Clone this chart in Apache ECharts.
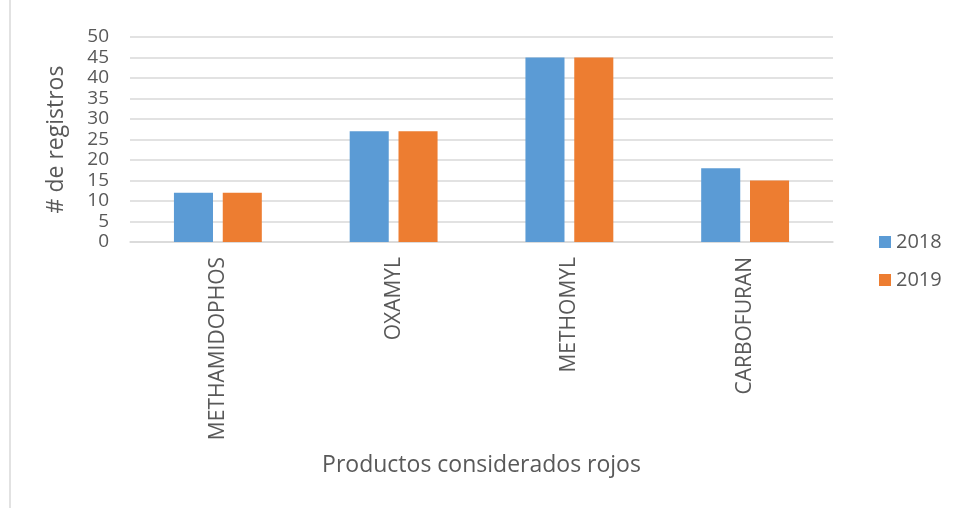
<!DOCTYPE html>
<html><head><meta charset="utf-8">
<script src="https://cdn.jsdelivr.net/npm/echarts@6/dist/echarts.min.js"></script>
<style>html,body{margin:0;padding:0;background:#fff}#c{width:956px;height:508px}</style>
</head><body><div id="c"></div>
<script>
const categories = ['METHAMIDOPHOS', 'OXAMYL', 'METHOMYL', 'CARBOFURAN'];
const values2018 = [12, 27, 45, 18];
const values2019 = [12, 27, 45, 15];
const seriesNames = ['2018', '2019'];
const chart = echarts.init(document.getElementById('c'));
const font = '"Open Sans", "Liberation Sans", sans-serif';
chart.setOption({
  animation: false,
  graphic: [{type: 'line', shape: {x1: 10, y1: 0, x2: 10, y2: 508}, style: {stroke: '#d9d9d9', lineWidth: 1.5}}],
  grid: {left: 130, right: 123, top: 37, bottom: 266},
  legend: {
    orient: 'vertical', left: 874, top: 227, itemGap: 18, itemWidth: 12, itemHeight: 12,
    icon: 'rect', textStyle: {fontSize: 20, color: '#595959', fontFamily: font}, data: seriesNames
  },
  xAxis: {
    type: 'category', data: categories,
    name: 'Productos considerados rojos', nameLocation: 'middle', nameGap: 212,
    nameTextStyle: {fontSize: 23, color: '#595959', fontFamily: font},
    axisLine: {lineStyle: {color: '#d9d9d9', width: 1.5}}, axisTick: {show: false},
    axisLabel: {rotate: 90, fontSize: 21, color: '#595959', fontFamily: font, margin: 15}
  },
  yAxis: {
    type: 'value', min: 0, max: 50, interval: 5,
    name: '# de registros', nameLocation: 'middle', nameGap: 62,
    nameTextStyle: {fontSize: 23, color: '#595959', fontFamily: font},
    axisLine: {show: false}, axisTick: {show: false},
    axisLabel: {fontSize: 19, lineHeight: 19, color: '#595959', fontFamily: font, margin: 21,
                showMinLabel: true, showMaxLabel: true},
    splitLine: {lineStyle: {color: '#d9d9d9', width: 1.5}}
  },
  series: [
    {name: seriesNames[0], type: 'bar', data: values2018, barGap: '25%', barCategoryGap: '50%', itemStyle: {color: '#5b9bd5'}},
    {name: seriesNames[1], type: 'bar', data: values2019, barGap: '25%', barCategoryGap: '50%', itemStyle: {color: '#ed7d31'}}
  ]
});
</script></body></html>
